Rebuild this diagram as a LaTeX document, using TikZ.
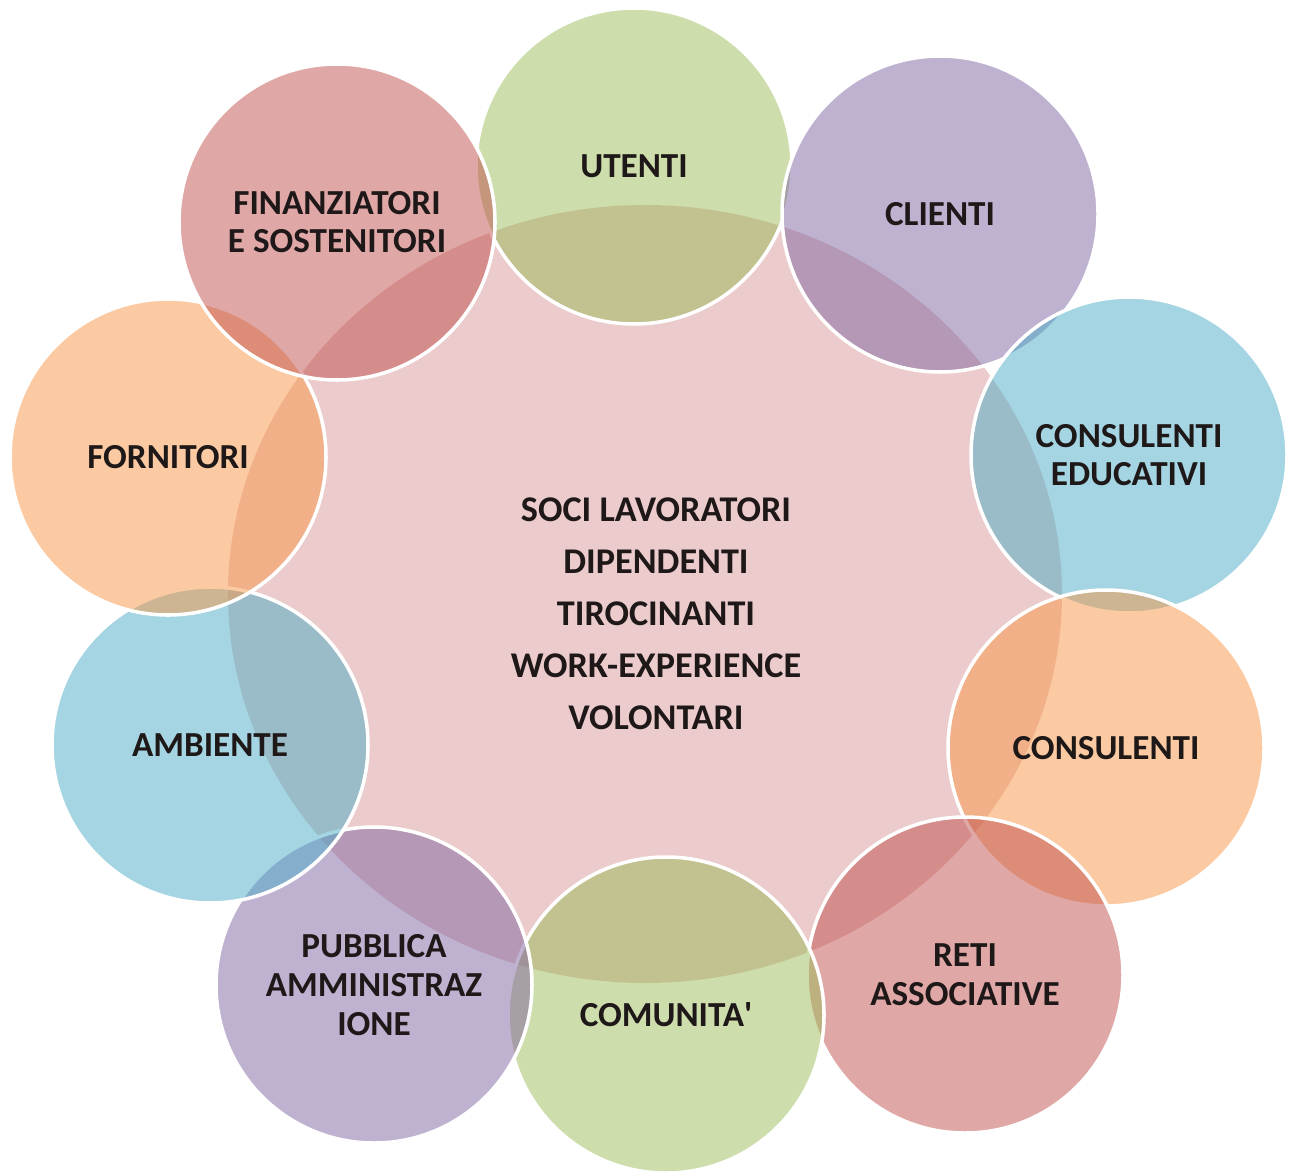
\documentclass[tikz,border=0pt]{standalone}
\usepackage{fontspec}
\setmainfont{Carlito}
\usetikzlibrary{shapes.geometric}

\definecolor{olgreen}{HTML}{9BBB59}
\definecolor{olpurple}{HTML}{8064A2}
\definecolor{olblue}{HTML}{4BACC6}
\definecolor{olorange}{HTML}{F79646}
\definecolor{olred}{HTML}{C0504D}
\definecolor{hubpink}{HTML}{EBCBCB}
\definecolor{inkdark}{HTML}{1E1818}

\begin{document}
\begin{tikzpicture}[
        bubble/.style={circle, draw=white, line width=1pt, fill opacity=0.5, text opacity=1,
            minimum size=3.16cm, inner sep=0pt, align=center, text=inkdark,
            font=\bfseries\fontsize{10}{11}\selectfont},
        hub/.style={ellipse, fill=hubpink, minimum width=8.34cm, minimum height=7.78cm, inner sep=0pt}
    ]
        \useasboundingbox (0,0) rectangle (12.97,11.74);

        \node[hub] (hub) at (6.45, 5.80) {};

        \node[bubble, fill=olgreen] (utenti) at (6.34, 10.08) {UTENTI};
        \node[bubble, fill=olpurple] (clienti) at (9.40, 9.60) {CLIENTI};
        \node[bubble, fill=olblue] (educativi) at (11.29, 7.19) {CONSULENTI\\EDUCATIVI};
        \node[bubble, fill=olorange] (consulenti) at (11.06, 4.26) {CONSULENTI};
        \node[bubble, fill=olred] (reti) at (9.65, 1.99) {RETI\\ASSOCIATIVE};
        \node[bubble, fill=olgreen] (comunita) at (6.66, 1.59) {COMUNITA\textquotesingle};
        \node[bubble, fill=olpurple] (pa) at (3.74, 1.89) {PUBBLICA\\AMMINISTRAZ\\IONE};
        \node[bubble, fill=olblue] (ambiente) at (2.10, 4.29) {AMBIENTE};
        \node[bubble, fill=olorange] (fornitori) at (1.68, 7.17) {FORNITORI};
        \node[bubble, fill=olred] (finanziatori) at (3.37, 9.52) {FINANZIATORI\\E SOSTENITORI};

        \node[align=center, text=inkdark, font=\bfseries\fontsize{10.3}{14.8}\selectfont] (soci) at (6.56, 5.60)
            {SOCI LAVORATORI\\DIPENDENTI\\TIROCINANTI\\WORK-EXPERIENCE\\VOLONTARI};
    \end{tikzpicture}
\end{document}
